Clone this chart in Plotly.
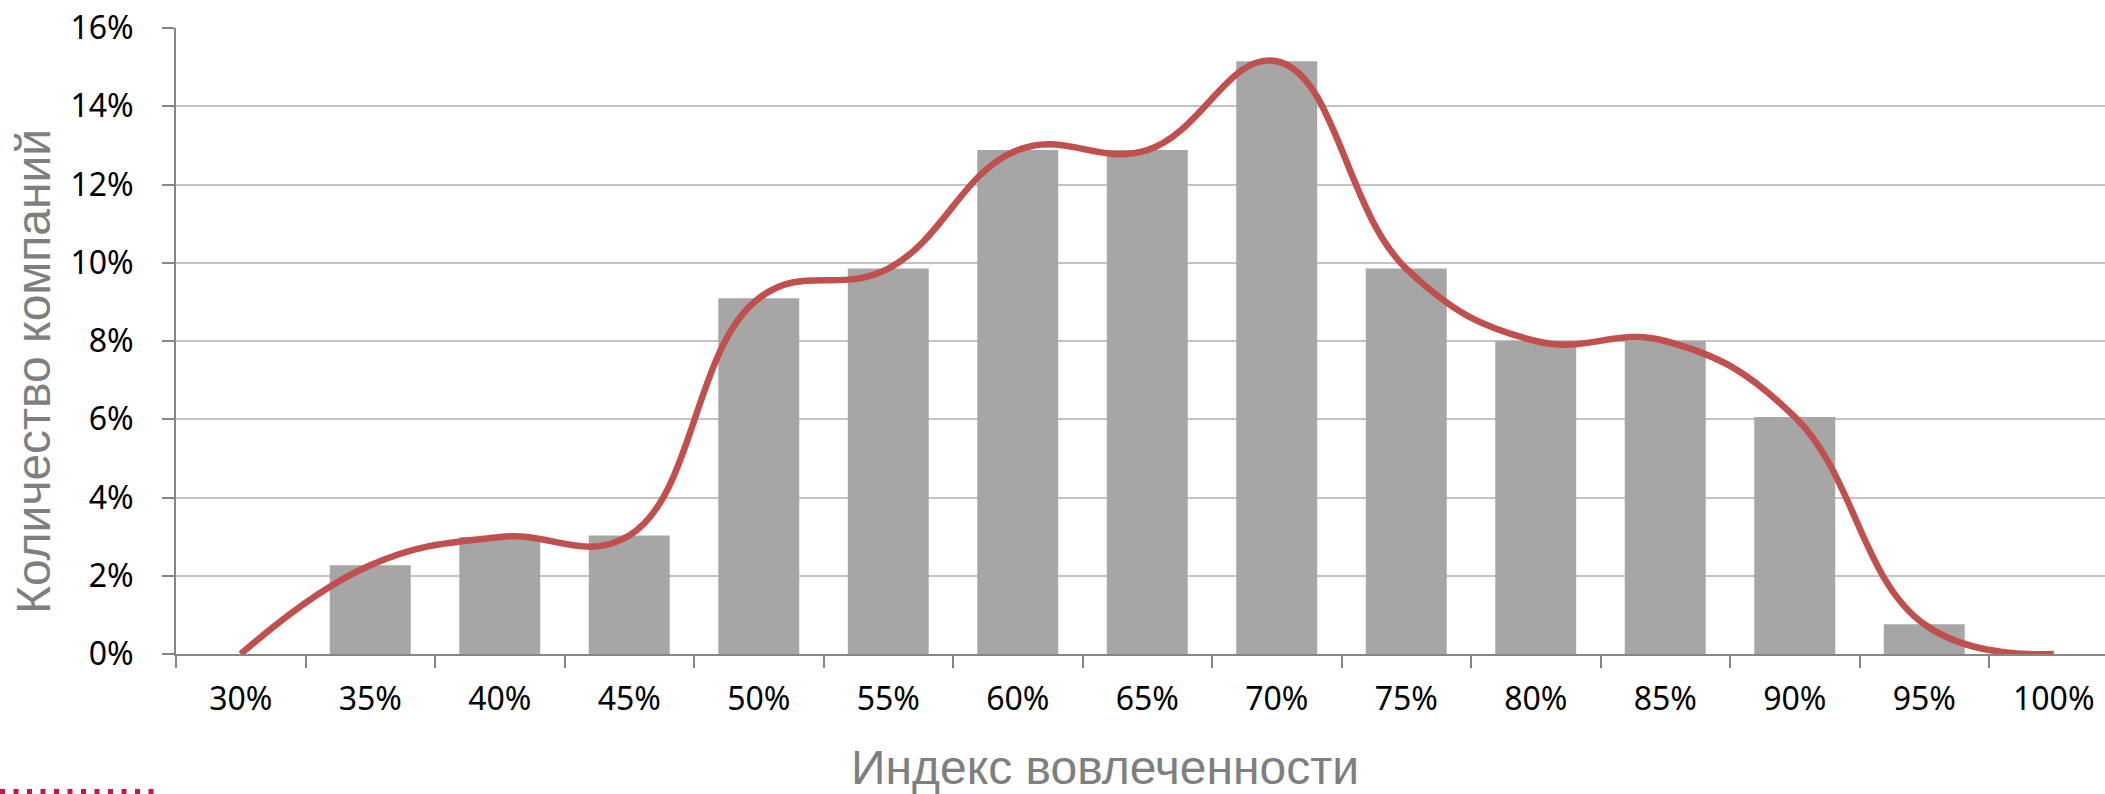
import plotly.graph_objects as go

# Engagement index buckets and share of companies (%)
categories = ["30%", "35%", "40%", "45%", "50%", "55%", "60%", "65%",
              "70%", "75%", "80%", "85%", "90%", "95%", "100%"]
share = [0, 2.27, 2.99, 3.03, 9.09, 9.85, 12.88, 12.88,
         15.15, 9.85, 8.0, 8.0, 6.06, 0.76, 0]
y_ticks = [0, 2, 4, 6, 8, 10, 12, 14, 16]
y_tick_labels = ["0%", "2%", "4%", "6%", "8%", "10%", "12%", "14%", "16%"]

W, H = 2105, 794
L, R, T, B = 176, 0, 28, 140
plot_w = W - L - R
plot_h = H - T - B
band = 129.5  # pixel width of one category band
x_max = -0.5 + plot_w / band

AXIS = "#868686"
GRID = "#C3C3C3"
TICK_FONT = dict(family="Noto Sans", size=32, color="#000000")
TITLE_FONT = dict(family="Liberation Sans, Arial", size=48, color="#7F7F7F")

fig = go.Figure()
fig.add_trace(go.Bar(
    x=categories, y=share,
    marker=dict(color="#A6A6A6", line=dict(width=0)),
    hoverinfo="skip",
))
fig.add_trace(go.Scatter(
    x=categories, y=share, mode="lines",
    line=dict(color="#C0504D", width=6.5, shape="spline", smoothing=1.2),
    hoverinfo="skip",
))


def px_x(p):
    return (p - L) / plot_w


def px_y(p):
    return (H - B - p) / plot_h


fig.update_layout(
    width=W, height=H,
    margin=dict(l=L, r=R, t=T, b=B, pad=0),
    paper_bgcolor="#FFFFFF", plot_bgcolor="#FFFFFF",
    showlegend=False,
    bargap=0.375,
    xaxis=dict(
        type="category", range=[-0.5, x_max],
        tickson="boundaries", ticks="outside", ticklen=12, tickwidth=2,
        tickcolor=AXIS, showline=True, linecolor=AXIS, linewidth=2,
        showgrid=False, tickfont=TICK_FONT, ticklabelstandoff=16,
    ),
    yaxis=dict(
        range=[0, 16], tickvals=y_ticks, ticktext=y_tick_labels,
        ticks="outside", ticklen=12, tickwidth=2, tickcolor=AXIS,
        showline=True, linecolor=AXIS, linewidth=2,
        showgrid=True, gridcolor=GRID, gridwidth=2,
        zeroline=False, tickfont=TICK_FONT, ticklabelstandoff=22,
    ),
    annotations=[
        dict(text="Количество компаний", textangle=-90,
             xref="paper", yref="paper", x=px_x(33), y=px_y(372),
             xanchor="center", yanchor="middle", showarrow=False,
             font=TITLE_FONT),
        dict(text="Индекс вовлеченности",
             xref="paper", yref="paper", x=px_x(1105), y=px_y(767),
             xanchor="center", yanchor="middle", showarrow=False,
             font=TITLE_FONT),
    ],
    shapes=[
        dict(type="line", xref="paper", yref="paper",
             x0=px_x(0), x1=px_x(155), y0=px_y(791.5), y1=px_y(791.5),
             line=dict(color="#C8164A", width=5, dash="5px,8.5px")),
    ],
)

fig.write_html("out.html")
